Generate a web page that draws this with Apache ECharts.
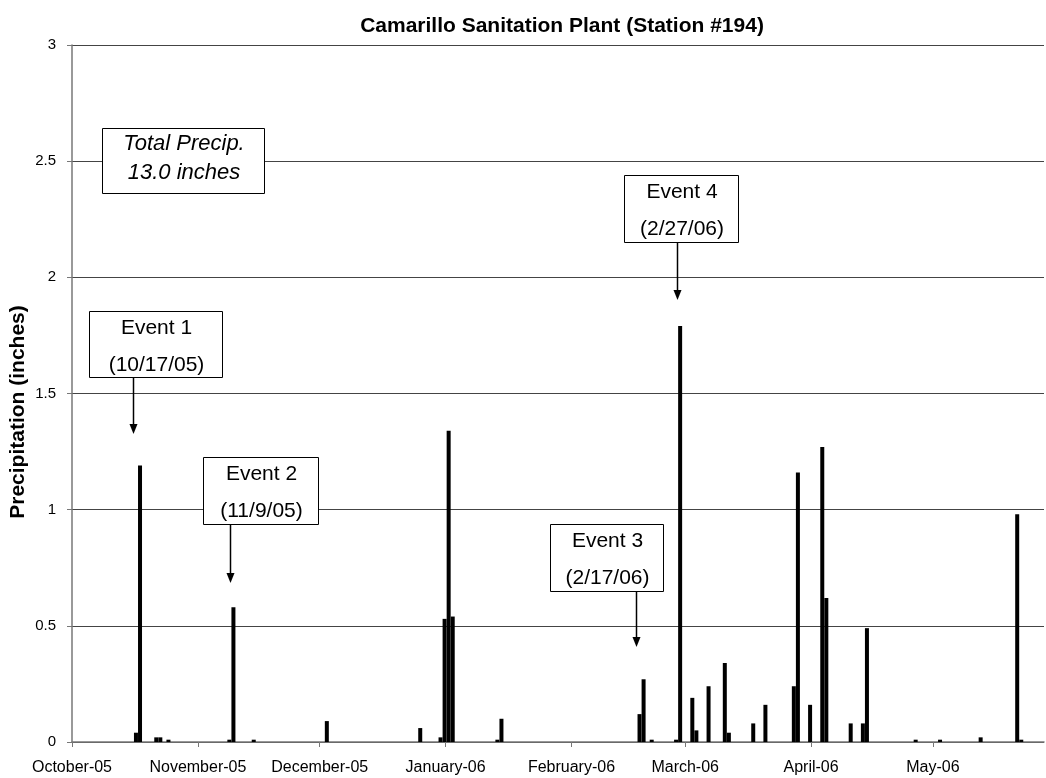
<!DOCTYPE html>
<html>
<head>
<meta charset="utf-8">
<script src="https://cdn.jsdelivr.net/npm/echarts@6/dist/echarts.min.js"></script>
<style>
html,body{margin:0;padding:0;background:#fff;}
#chart{width:1046px;height:778px;}
</style>
</head>
<body>
<div id="chart"></div>
<script>
// ---- data ----
const dates = [
  '2005-10-16','2005-10-17','2005-10-21','2005-10-22','2005-10-24',
  '2005-11-08','2005-11-09','2005-11-14',
  '2005-12-02','2005-12-25','2005-12-30','2005-12-31',
  '2006-01-01','2006-01-02','2006-01-13','2006-01-14',
  '2006-02-17','2006-02-18','2006-02-20','2006-02-26','2006-02-27',
  '2006-03-02','2006-03-03','2006-03-06','2006-03-10','2006-03-11','2006-03-17','2006-03-20',
  '2006-03-27','2006-03-28','2006-03-31',
  '2006-04-03','2006-04-04','2006-04-10','2006-04-13','2006-04-14','2006-04-26',
  '2006-05-02','2006-05-12','2006-05-21','2006-05-22'
];
const precip = [
  0.04,1.19,0.02,0.02,0.01,
  0.01,0.58,0.01,
  0.09,0.06,0.02,0.53,
  1.34,0.54,0.01,0.10,
  0.12,0.27,0.01,0.01,1.79,
  0.19,0.05,0.24,0.34,0.04,0.08,0.16,
  0.24,1.16,0.16,
  1.27,0.62,0.08,0.08,0.49,0.01,
  0.01,0.02,0.98,0.01
];
const monthTicks = ['2005-10-01','2005-11-01','2005-12-01','2006-01-01','2006-02-01','2006-03-01','2006-04-01','2006-05-01'];
const monthLabels = ['October-05','November-05','December-05','January-06','February-06','March-06','April-06','May-06'];
const titleText = 'Camarillo Sanitation Plant (Station #194)';
const yAxisTitle = 'Precipitation (inches)';
const totalNote = ['Total Precip.', '13.0 inches'];
const events = [
  {label:'Event 1', date:'(10/17/05)'},
  {label:'Event 2', date:'(11/9/05)'},
  {label:'Event 3', date:'(2/17/06)'},
  {label:'Event 4', date:'(2/27/06)'}
];

// ---- build ----
const DAY = 86400000;
const toTs = s => Date.parse(s + 'T00:00:00Z');
const seriesData = dates.map((d, i) => [toTs(d) + DAY * 0.75, precip[i]]);
const tickTs = monthTicks.map(toTs);
const xMin = toTs('2005-10-01');
const xMax = xMin + 239.35 * DAY;

const FONT = '"Liberation Sans", Arial, sans-serif';

// annotation layout (pixels)
const boxes = [
  {x:89, y:311, w:133, h:66, ax:133, tipY:434},
  {x:203, y:457, w:115, h:67, ax:230, tipY:583},
  {x:550, y:524, w:113, h:67, ax:636, tipY:647},
  {x:624, y:175, w:114, h:67, ax:677, tipY:300}
];

const graphics = [];
graphics.push({type:'text', x:18, y:412, rotation:Math.PI/2, style:{text: yAxisTitle, font:'bold 21px ' + FONT, fill:'#000', align:'center', verticalAlign:'middle'}, z:11});
graphics.push({type:'rect', shape:{x:102.5, y:128.5, width:162, height:65}, style:{fill:'#fff', stroke:'#000', lineWidth:1}, z:10});
graphics.push({type:'text', x:184, y:144, style:{text: totalNote[0], font:'italic 22px ' + FONT, fill:'#000', align:'center', verticalAlign:'middle'}, z:11});
graphics.push({type:'text', x:184, y:173, style:{text: totalNote[1], font:'italic 22px ' + FONT, fill:'#000', align:'center', verticalAlign:'middle'}, z:11});

boxes.forEach((b, i) => {
  const cx = b.x + b.w / 2;
  graphics.push({type:'rect', shape:{x:b.x + 0.5, y:b.y + 0.5, width:b.w, height:b.h}, style:{fill:'#fff', stroke:'#000', lineWidth:1}, z:10});
  graphics.push({type:'text', x:cx + 1, y:b.y + 17, style:{text: events[i].label, font:'21px ' + FONT, fill:'#000', align:'center', verticalAlign:'middle'}, z:11});
  graphics.push({type:'text', x:cx + 1, y:b.y + 54, style:{text: events[i].date, font:'21px ' + FONT, fill:'#000', align:'center', verticalAlign:'middle'}, z:11});
  graphics.push({type:'line', shape:{x1:b.ax + 0.5, y1:b.y + b.h, x2:b.ax + 0.5, y2:b.tipY - 8}, style:{stroke:'#000', lineWidth:1.5}, z:10});
  graphics.push({type:'polygon', shape:{points:[[b.ax - 3.5, b.tipY - 10], [b.ax + 4.5, b.tipY - 10], [b.ax + 0.5, b.tipY]]}, style:{fill:'#000'}, z:10});
});

const chart = echarts.init(document.getElementById('chart'), null, {renderer:'canvas'});
chart.setOption({
  animation: false,
  backgroundColor: '#fff',
  title: {
    text: titleText,
    left: 557,
    top: 11,
    textAlign: 'center',
    textStyle: {fontFamily: FONT, fontWeight: 'bold', fontSize: 21, color: '#000'}
  },
  grid: {left: 72, right: 2, top: 45, bottom: 36, containLabel: false},
  xAxis: {
    type: 'value',
    min: xMin,
    max: xMax,
    splitLine: {show: false},
    axisLine: {onZero: false, lineStyle: {color: '#777', width: 1.5}},
    axisTick: {show: true, length: 5, lineStyle: {color: '#777'}, customValues: tickTs},
    axisLabel: {
      customValues: tickTs,
      margin: 18,
      fontFamily: FONT, fontSize: 16, color: '#000',
      formatter: v => { const k = tickTs.indexOf(v); return k >= 0 ? monthLabels[k] : ''; }
    }
  },
  yAxis: {
    type: 'value',
    min: 0, max: 3, interval: 0.5,
    axisLine: {show: true, lineStyle: {color: '#777', width: 1.5}},
    axisTick: {show: true, length: 5, lineStyle: {color: '#777'}},
    splitLine: {show: true, lineStyle: {color: '#444', width: 1}},
    axisLabel: {
      margin: 16, fontFamily: FONT, fontSize: 15, color: '#000',
      formatter: v => String(v)
    }
  },
  series: [{
    type: 'bar',
    data: seriesData,
    barWidth: 4,
    itemStyle: {color: '#000'},
    z: 5
  }],
  graphic: graphics
});
</script>
</body>
</html>
